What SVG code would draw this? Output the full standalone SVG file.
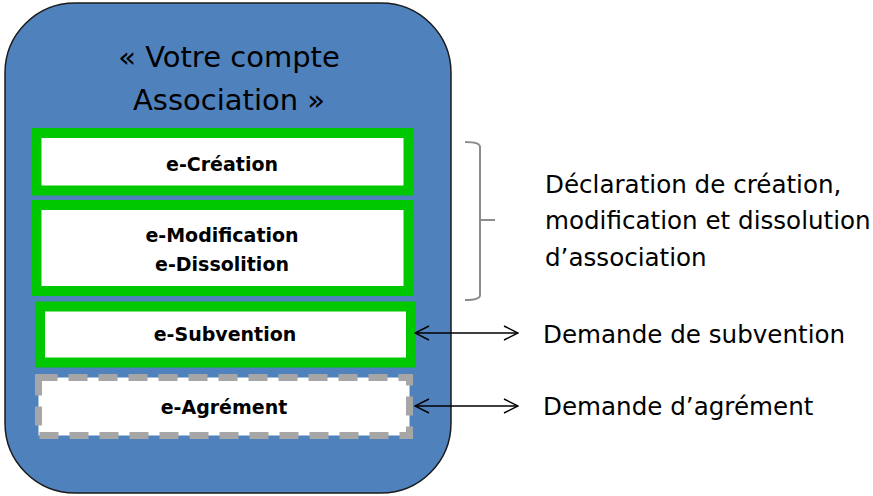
<svg xmlns="http://www.w3.org/2000/svg" width="873" height="496" viewBox="0 0 873 496">
<defs>
<style>
.title{font-family:"DejaVu Sans",sans-serif;font-size:29px;fill:#000;text-anchor:middle}
.item{font-family:"DejaVu Sans",sans-serif;font-size:19px;font-weight:bold;fill:#000;text-anchor:middle}
.note{font-family:"DejaVu Sans",sans-serif;font-size:24.6px;fill:#000}
.green{fill:#fff;stroke:#00c800;stroke-width:10}
.conn{fill:none;stroke:#000;stroke-width:1.4}
</style>
<marker id="open" viewBox="0 0 16 16" refX="15" refY="8" markerWidth="16" markerHeight="16" markerUnits="userSpaceOnUse" orient="auto-start-reverse">
<path d="M1,1 L15,8 L1,15" fill="none" stroke="#000" stroke-width="1.4"/>
</marker>
</defs>
<rect width="873" height="496" fill="#fff"/>
<g id="account">
<rect x="5" y="3" width="446" height="490" rx="70" ry="70" fill="#4f81bd" stroke="#1a1a1a" stroke-width="1.5"/>
<text class="title" x="229" y="67">« Votre compte</text>
<text class="title" x="229" y="110">Association »</text>
</g>
<g id="e-creation">
<rect class="green" x="36.5" y="133" width="372" height="57.5"/>
<text class="item" x="222" y="171">e-Création</text>
</g>
<g id="e-modification">
<rect class="green" x="36.5" y="205" width="372" height="86"/>
<text class="item" x="222" y="242">e-Modification</text>
<text class="item" x="222" y="271">e-Dissolition</text>
</g>
<g id="e-subvention">
<rect class="green" x="40" y="306.5" width="371" height="56"/>
<text class="item" x="225" y="341">e-Subvention</text>
</g>
<g id="e-agrement">
<rect x="38.5" y="377.5" width="371" height="58" fill="#fff" stroke="#a6a6a6" stroke-width="7" stroke-dasharray="19 11"/>
<text class="item" x="224" y="414">e-Agrément</text>
</g>
<g id="connectors">
<path d="M465,142 Q480,142 480,147 L480,295 Q480,300 465,300 M480,220 L495,220" fill="none" stroke="#8c8c8c" stroke-width="2"/>
<line class="conn" x1="415" y1="333" x2="518" y2="333" marker-start="url(#open)" marker-end="url(#open)"/>
<line class="conn" x1="415" y1="406" x2="518" y2="406" marker-start="url(#open)" marker-end="url(#open)"/>
</g>
<g id="labels">
<text class="note" x="545" y="193">Déclaration de création,</text>
<text class="note" x="545" y="229">modification et dissolution</text>
<text class="note" x="545" y="266">d’association</text>
<text class="note" x="543" y="343">Demande de subvention</text>
<text class="note" x="543" y="415">Demande d’agrément</text>
</g>
</svg>
